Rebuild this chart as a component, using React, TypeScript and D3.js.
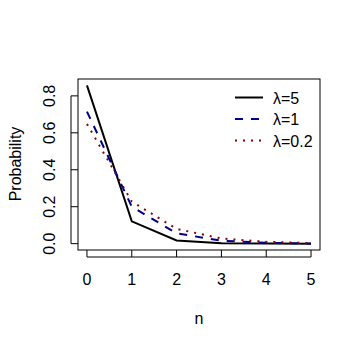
import React from 'react'
import * as d3 from 'd3'

// n values and probabilities for each lambda
const nValues = [0, 1, 2, 3, 4, 5]
const lambda5 = [0.857, 0.121, 0.017, 0.0025, 0.0004, 0.0001]
const lambda1 = [0.715, 0.2, 0.056, 0.016, 0.0045, 0.0012]
const lambda02 = [0.648, 0.228, 0.08, 0.028, 0.0098, 0.0034]
const xTicks = [0, 1, 2, 3, 4, 5]
const yTicks = [0, 0.2, 0.4, 0.6, 0.8]
const legendLabels = ['λ=5', 'λ=1', 'λ=0.2']

const W = 361
const H = 348
const left = 78
const right = 320
const top = 79
const bottom = 250
const font = '"Liberation Sans", Arial, sans-serif'

const series = [
  { values: lambda5, color: '#000000', dash: null },
  { values: lambda1, color: '#00008B', dash: '8,8' },
  { values: lambda02, color: '#8B0000', dash: '2,6' },
]

const App = () => {
  const yMax = d3.max([...lambda5, ...lambda1, ...lambda02]) as number
  const ext = 0.04 * yMax
  const x = d3.scaleLinear().domain([-0.2, 5.2]).range([left, right])
  const y = d3.scaleLinear().domain([-ext, yMax + ext]).range([bottom, top])

  const line = (vals: number[]) =>
    d3.line<number>()
      .x((d, i) => x(nValues[i]))
      .y(d => y(d))(vals) as string

  return (
    <svg width={W} height={H} style={{ position: 'absolute', left: 0, top: 0, background: '#fff' }}>
      <rect x={left} y={top} width={right - left} height={bottom - top} fill="none" stroke="#000" strokeWidth={1} />

      {series.map((s, i) => (
        <path key={i} d={line(s.values)} fill="none" stroke={s.color} strokeWidth={2}
          strokeDasharray={s.dash || undefined} />
      ))}

      {/* x axis */}
      <line x1={x(xTicks[0])} x2={x(xTicks[xTicks.length - 1])} y1={bottom + 7} y2={bottom + 7} stroke="#000" />
      {xTicks.map(t => (
        <g key={t}>
          <line x1={x(t)} x2={x(t)} y1={bottom + 7} y2={bottom} stroke="#000" />
          <text x={x(t)} y={285} textAnchor="middle" fontFamily={font} fontSize={16}>{t}</text>
        </g>
      ))}

      {/* y axis */}
      <line x1={left - 7} x2={left - 7} y1={y(yTicks[0])} y2={y(yTicks[yTicks.length - 1])} stroke="#000" />
      {yTicks.map(t => (
        <g key={t}>
          <line x1={left - 7} x2={left} y1={y(t)} y2={y(t)} stroke="#000" />
          <text transform={`translate(55,${y(t)}) rotate(-90)`} textAnchor="middle"
            fontFamily={font} fontSize={16}>{t.toFixed(1)}</text>
        </g>
      ))}

      <text x={(left + right) / 2} y={324} textAnchor="middle" fontFamily={font} fontSize={16}>n</text>
      <text transform={`translate(21,164) rotate(-90)`} textAnchor="middle" fontFamily={font} fontSize={16}>Probability</text>

      {/* legend */}
      {legendLabels.map((lab, i) => {
        const ly = 97.5 + i * 21.5
        return (
          <g key={lab}>
            <line x1={235} x2={263} y1={ly} y2={ly} stroke={series[i].color} strokeWidth={2}
              strokeDasharray={series[i].dash || undefined} />
            <text x={273} y={ly + 6} fontFamily={font} fontSize={16}>{lab}</text>
          </g>
        )
      })}
    </svg>
  )
}

export default App
